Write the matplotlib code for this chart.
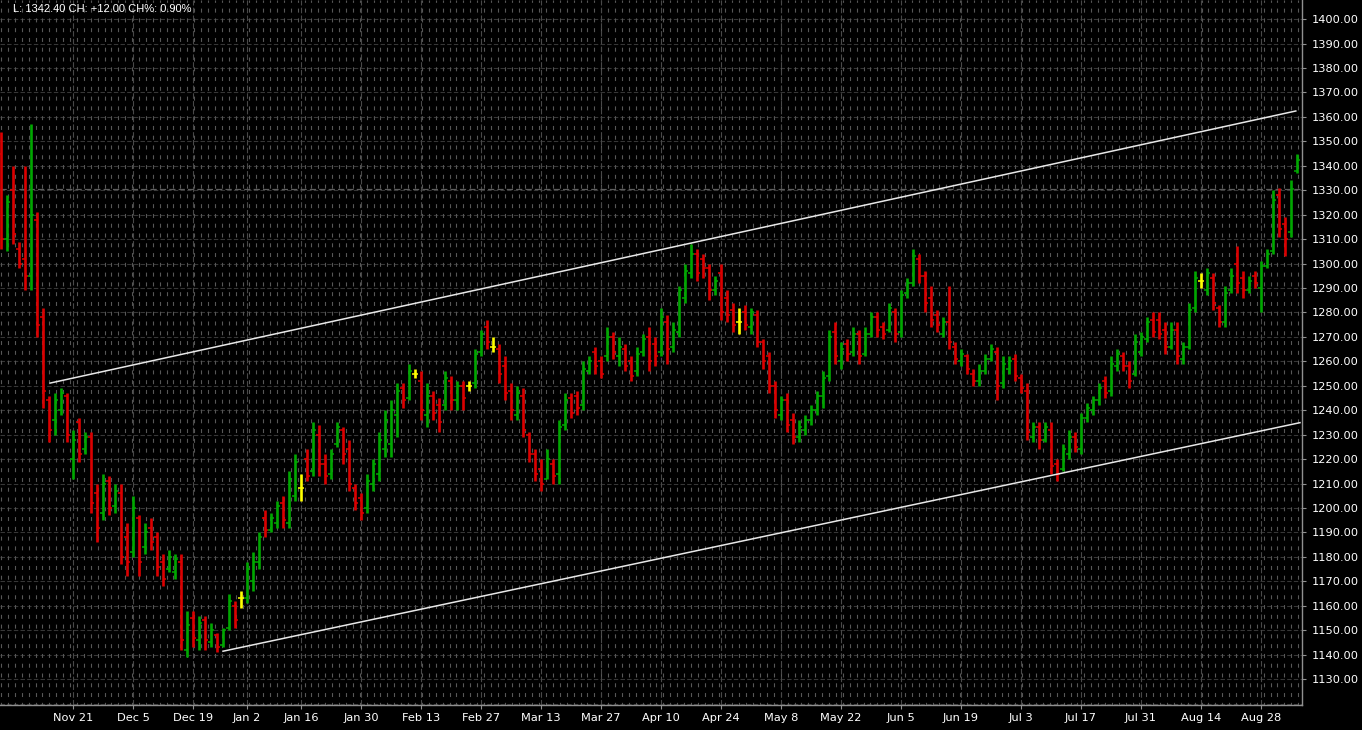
import matplotlib
matplotlib.use("Agg")
import matplotlib.pyplot as plt
import numpy as np
import pandas as pd

# daily OHLC (Nov 3 2016 - Sep 5 2017)
highs = [1354, 1328, 1340, 1309, 1340, 1357, 1321, 1282, 1246, 1247,
         1249, 1247, 1232, 1237, 1231, 1231, 1210, 1214, 1213, 1210,
         1210, 1194, 1205, 1197, 1194, 1196, 1190, 1181, 1183, 1181,
         1181, 1158, 1158, 1156, 1156, 1153, 1149, 1151, 1165, 1162,
         1166, 1178, 1182, 1190, 1199, 1198, 1203, 1205, 1215, 1222,
         1214, 1224, 1235, 1234, 1222, 1224, 1235, 1233, 1228, 1210,
         1206, 1214, 1220, 1231, 1240, 1244, 1251, 1251, 1259, 1257,
         1256, 1251, 1248, 1245, 1256, 1254, 1252, 1252, 1252, 1265,
         1273, 1277, 1270, 1267, 1262, 1251, 1250, 1249, 1231, 1224,
         1220, 1224, 1220, 1236, 1247, 1247, 1248, 1260, 1262, 1266,
         1262, 1274, 1272, 1270, 1267, 1262, 1266, 1271, 1274, 1270,
         1282, 1279, 1276, 1291, 1300, 1308, 1306, 1304, 1300, 1295,
         1300, 1289, 1284, 1282, 1283, 1282, 1281, 1269, 1264, 1252,
         1246, 1247, 1239, 1236, 1238, 1242, 1248, 1256, 1273, 1276,
         1268, 1269, 1274, 1273, 1274, 1280, 1280, 1276, 1284, 1282,
         1289, 1294, 1306, 1304, 1297, 1291, 1281, 1278, 1291, 1268,
         1265, 1263, 1257, 1259, 1263, 1267, 1266, 1262, 1262, 1263,
         1255, 1251, 1235, 1235, 1235, 1235, 1220, 1226, 1232, 1231,
         1239, 1243, 1246, 1251, 1254, 1262, 1265, 1264, 1260, 1271,
         1272, 1278, 1280, 1280, 1276, 1276, 1276, 1268, 1284, 1297,
         1296, 1298, 1296, 1283, 1291, 1298, 1307, 1297, 1295, 1297,
         1301, 1306, 1330, 1331, 1319, 1334, 1345]
lows = [1306, 1305, 1308, 1298, 1289, 1289, 1270, 1241, 1227, 1230,
        1238, 1227, 1212, 1219, 1222, 1198, 1186, 1195, 1197, 1198,
        1177, 1172, 1180, 1172, 1181, 1183, 1172, 1168, 1174, 1171,
        1142, 1139, 1143, 1142, 1142, 1143, 1141, 1143, 1150, 1151,
        1159, 1161, 1166, 1175, 1188, 1190, 1192, 1192, 1192, 1203,
        1203, 1211, 1213, 1213, 1210, 1212, 1225, 1218, 1207, 1199,
        1195, 1198, 1207, 1211, 1221, 1221, 1229, 1241, 1244, 1253,
        1236, 1233, 1236, 1231, 1240, 1240, 1240, 1240, 1248, 1249,
        1262, 1265, 1264, 1251, 1244, 1236, 1236, 1229, 1219, 1211,
        1207, 1212, 1210, 1210, 1232, 1237, 1238, 1240, 1255, 1255,
        1253, 1260, 1261, 1258, 1256, 1252, 1254, 1262, 1256, 1258,
        1262, 1259, 1264, 1270, 1284, 1294, 1293, 1294, 1285, 1287,
        1277, 1276, 1272, 1271, 1273, 1271, 1266, 1257, 1247, 1237,
        1236, 1231, 1226, 1227, 1230, 1234, 1238, 1241, 1252, 1259,
        1257, 1260, 1262, 1259, 1262, 1270, 1270, 1269, 1272, 1268,
        1270, 1286, 1291, 1292, 1280, 1274, 1272, 1270, 1265, 1259,
        1258, 1255, 1250, 1250, 1255, 1260, 1244, 1249, 1255, 1252,
        1247, 1228, 1227, 1224, 1227, 1214, 1211, 1215, 1220, 1223,
        1222, 1235, 1238, 1242, 1245, 1246, 1256, 1256, 1249, 1254,
        1262, 1268, 1270, 1269, 1263, 1265, 1259, 1259, 1265, 1280,
        1290, 1287, 1281, 1274, 1274, 1288, 1288, 1286, 1288, 1290,
        1280, 1298, 1304, 1311, 1303, 1311, 1337]
opens = [1345, 1310, 1330, 1306, 1302, 1295, 1318, 1278, 1244, 1236,
         1240, 1246, 1220, 1235, 1224, 1229, 1206, 1198, 1211, 1201,
         1206, 1188, 1182, 1196, 1184, 1192, 1188, 1178, 1175, 1174,
         1178, 1142, 1155, 1146, 1154, 1145, 1148, 1144, 1151, 1160,
         1163, 1163, 1170, 1178, 1196, 1191, 1194, 1202, 1194, 1205,
         1208, 1220, 1215, 1230, 1218, 1214, 1226, 1232, 1224, 1208,
         1204, 1200, 1210, 1214, 1224, 1226, 1238, 1249, 1245, 1255,
         1252, 1238, 1246, 1242, 1242, 1252, 1244, 1250, 1250, 1251,
         1264, 1274, 1266, 1265, 1258, 1248, 1238, 1246, 1230, 1222,
         1216, 1212, 1218, 1214, 1234, 1245, 1246, 1242, 1256, 1264,
         1260, 1262, 1270, 1262, 1265, 1260, 1256, 1264, 1270, 1267,
         1264, 1276, 1266, 1272, 1286, 1296, 1304, 1302, 1298, 1289,
         1296, 1286, 1281, 1276, 1280, 1274, 1279, 1268, 1262, 1250,
         1238, 1244, 1236, 1229, 1232, 1236, 1240, 1246, 1254, 1272,
         1260, 1267, 1264, 1271, 1263, 1271, 1278, 1274, 1273, 1280,
         1272, 1288, 1292, 1302, 1295, 1286, 1279, 1271, 1276, 1266,
         1260, 1262, 1255, 1252, 1256, 1261, 1264, 1251, 1257, 1261,
         1253, 1248, 1229, 1233, 1228, 1232, 1218, 1216, 1222, 1229,
         1224, 1237, 1240, 1244, 1252, 1248, 1258, 1262, 1258, 1255,
         1264, 1269, 1277, 1277, 1273, 1266, 1273, 1261, 1266, 1282,
         1293, 1289, 1294, 1282, 1276, 1289, 1300, 1294, 1289, 1295,
         1290, 1299, 1305, 1328, 1316, 1313, 1338]
closes = [1310, 1325, 1312, 1300, 1295, 1320, 1275, 1248, 1232, 1244,
          1247, 1230, 1228, 1222, 1229, 1202, 1192, 1210, 1200, 1207,
          1180, 1178, 1200, 1178, 1190, 1186, 1176, 1171, 1180, 1179,
          1146, 1152, 1147, 1153, 1146, 1150, 1143, 1150, 1162, 1154,
          1163, 1175, 1178, 1188, 1191, 1196, 1201, 1195, 1212, 1219,
          1208, 1213, 1232, 1218, 1213, 1222, 1233, 1222, 1210, 1202,
          1198, 1211, 1218, 1228, 1236, 1240, 1248, 1244, 1256, 1255,
          1240, 1246, 1239, 1235, 1253, 1244, 1250, 1245, 1250, 1263,
          1271, 1268, 1266, 1255, 1247, 1240, 1247, 1232, 1222, 1214,
          1210, 1220, 1213, 1233, 1244, 1239, 1241, 1257, 1260, 1258,
          1255, 1270, 1264, 1266, 1258, 1254, 1263, 1269, 1260, 1262,
          1278, 1265, 1273, 1289, 1297, 1304, 1296, 1298, 1289, 1293,
          1280, 1279, 1275, 1276, 1275, 1280, 1268, 1260, 1250, 1240,
          1244, 1234, 1229, 1233, 1236, 1240, 1246, 1253, 1270, 1262,
          1265, 1263, 1271, 1262, 1271, 1278, 1273, 1271, 1282, 1271,
          1287, 1292, 1303, 1295, 1284, 1277, 1275, 1276, 1268, 1261,
          1263, 1257, 1252, 1256, 1261, 1265, 1250, 1259, 1260, 1254,
          1249, 1231, 1233, 1228, 1233, 1217, 1214, 1224, 1229, 1225,
          1237, 1241, 1244, 1249, 1247, 1259, 1263, 1258, 1252, 1268,
          1270, 1276, 1272, 1271, 1266, 1273, 1262, 1266, 1281, 1294,
          1293, 1296, 1284, 1276, 1288, 1295, 1292, 1289, 1293, 1292,
          1299, 1304, 1326, 1314, 1310, 1330.4, 1342.4]

# hand drawn channel lines (bar index, price)
upper_x = [8.2, 215.8]
upper_y = [1251.1, 1362.4]
lower_x = [37.0, 216.5]
lower_y = [1141.4, 1234.9]

days = pd.bdate_range("2016-11-03", "2017-09-05")
days = days.drop(pd.to_datetime(["2016-12-26", "2017-01-02"]))
tick_dates = pd.date_range("2016-11-21", "2017-08-28", freq="14D")

n = len(closes)
idx = np.arange(n)
o = np.array(opens, dtype=float)
c = np.array(closes, dtype=float)
cols = np.where(c > o, "#00a800", np.where(c < o, "#dc0000", "#ffff00"))

W, H = 1362, 730
fig = plt.figure(figsize=(W / 100, H / 100), dpi=100, facecolor="black")
ax = fig.add_axes([0, 25 / H, 1302 / W, 705 / H], facecolor="black")
ax.set_xlim(-1 / 6, 1301 / 6)
ax.set_ylim(1119.4, 1407.8)

# grid
for v in range(1120, 1410, 10):
    ax.axhline(v, color="#363636", lw=0.8, ls=(0, (4, 2)), zorder=0)
for i in np.arange(0, n + 1, 1.15):
    ax.vlines(i, 1119.4, 1407.8, color="#575757", lw=0.8,
              ls=(1.2, (3.6, 5.2)), zorder=0)
tick_pos = days.searchsorted(tick_dates)
for t in tick_pos:
    ax.axvline(t, color="#484848", lw=0.8, ls=(0, (5, 2)), zorder=0)
ax.axhline(closes[-2], color="#5e5e5e", lw=0.9, ls=(0, (5, 2.5)), zorder=0)

# price bars: range line, open tick left, close tick right
ax.vlines(idx, lows, highs, colors=cols, lw=1.9, zorder=3)
ax.hlines(o, idx - 0.45, idx, colors=cols, lw=1.1, zorder=3)
ax.hlines(c, idx, idx + 0.45, colors=cols, lw=1.1, zorder=3)

ax.plot(upper_x, upper_y, color="#e8e8e8", lw=1.1, zorder=4)
ax.plot(lower_x, lower_y, color="#e8e8e8", lw=1.1, zorder=4)

ax.set_xticks(tick_pos)
ax.set_xticklabels([d.strftime("%b ") + str(d.day) for d in tick_dates])
ax.set_yticks(np.arange(1130, 1401, 10))
ax.set_yticklabels([f"{v:.2f}" for v in np.arange(1130, 1401, 10)])
ax.yaxis.tick_right()
ax.tick_params(colors="#909090", labelcolor="white", labelsize=8.2,
               length=3, width=0.8)
ax.tick_params(axis="y", pad=4)
ax.tick_params(axis="x", pad=3)
for s in ["left", "top"]:
    ax.spines[s].set_visible(False)
for s in ["right", "bottom"]:
    ax.spines[s].set_color("#909090")
    ax.spines[s].set_linewidth(1.0)

fig.text(13 / W, 1 - 9 / H, "L: 1342.40 CH: +12.00 CH%: 0.90%",
         color="white", fontsize=8, family="Liberation Sans",
         va="center", ha="left")

fig.savefig("out.png", dpi=100, facecolor="black")
